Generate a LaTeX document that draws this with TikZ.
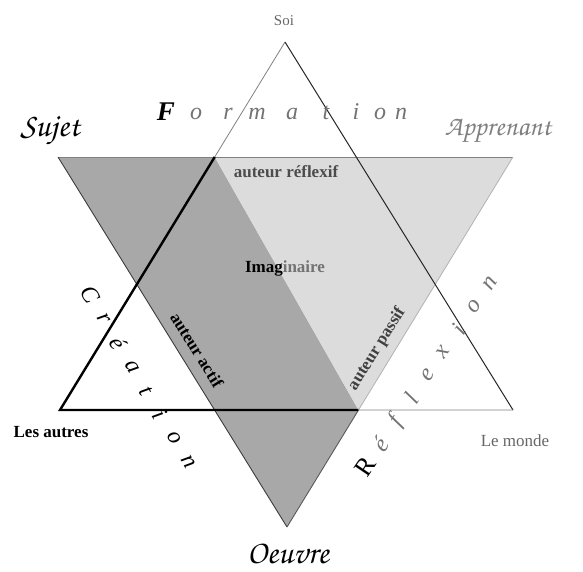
\documentclass[tikz,border=0pt]{standalone}
\usepackage[T1]{fontenc}
\usepackage{fontspec}
\setmainfont{Liberation Serif}
\usepackage{tikz}
\newcommand{\calli}{\fontencoding{T1}\fontfamily{pzc}\fontseries{mb}\fontshape{it}\selectfont}
\definecolor{hxDark}{HTML}{A8A8A8}
\definecolor{hxLight}{HTML}{DCDCDC}
\definecolor{hxInk}{HTML}{1A1A1A}
\definecolor{hxGrey}{HTML}{808080}

\begin{document}
\begin{tikzpicture}[x=1pt,y=-1pt,
    lbl/.style={inner sep=1pt,font=\fontsize{17}{19}\selectfont\bfseries},
    calig/.style={inner sep=0pt,font=\calli\fontsize{30}{32}\selectfont},
    lettre/.style={inner sep=0pt,font=\fontsize{24}{26}\selectfont\itshape}]
		\useasboundingbox (0,0) rectangle (583,571);
		% sommets des deux triangles
		\coordinate (soi) at (285,42);
		\coordinate (autres) at (60,410);
		\coordinate (monde) at (513,410);
		\coordinate (sujet) at (58,157);
		\coordinate (appr) at (513,157);
		\coordinate (oeuvre) at (287,527);
		\coordinate (ia) at (intersection of soi--autres and sujet--appr);
		\coordinate (ib) at (intersection of oeuvre--appr and autres--monde);
		% zones grises
		\fill[hxDark]  (sujet) -- (ia) -- (ib) -- (oeuvre) -- cycle;
		\fill[hxLight] (ia) -- (appr) -- (ib) -- cycle;
		% aretes
		\draw[hxGrey,line width=0.8pt] (sujet) -- (appr);
		\draw[hxInk!85,line width=0.9pt] (sujet) -- (oeuvre);
		\draw[black!30,line width=0.8pt] (appr) -- (ib);
		\draw[black!65,line width=0.9pt] (ib) -- (oeuvre);
		\draw[black!50,line width=0.8pt] (soi) -- (ia);
		\draw[black!85,line width=1pt] (soi) -- (monde);
		\draw[black!50,line width=0.8pt] (ib) -- (monde);
		\draw[black,line width=2.4pt,line join=miter] (ia) -- (autres) -- (ib);
		% sommets
		\node[lbl,text=black!60,font=\fontsize{15}{17}\selectfont] (soiL) at (284,21) {Soi};
		\node[calig,font=\calli\fontsize{33}{35}\selectfont] (sujetL) at (50,131) {Sujet};
		\node[calig,text=black!50,font=\calli\fontsize{28}{30}\selectfont] (apprL) at (498,131) {Apprenant};
		\node[calig,font=\calli\fontsize{33}{35}\selectfont] (oeuvreL) at (288,554) {Oeuvre};
		\node[lbl] (autresL) at (51,432) {Les autres};
		\node[lbl,text=black!60,font=\fontsize{17}{19}\selectfont] (mondeL) at (515,441) {Le monde};
		% auteurs
		\node[lbl,text=black!70] (reflexif) at (286,172) {auteur réflexif};
		\node[lbl] (imag) at (285,268) {Imag\textcolor{black!55}{inaire}};
		\node[lbl,rotate=-58] (actif) at (197,350) {auteur actif};
		\node[lbl,text=black!75,rotate=58] (passif) at (377,349) {auteur passif};
		% Formation
		\node[lettre,anchor=base,font=\fontsize{27}{29}\selectfont\bfseries\itshape] (form0) at (166,120) {F};
		\foreach \l/\x [count=\i] in {o/196,r/228,m/257,a/292,t/326,i/356,o/380,n/401}
			\node[lettre,anchor=base,text=black!55] (form\i) at (\x,119) {\l};
		% Création
		\foreach \l [count=\i from 0] in {C,r,é,a,t,i,o,n}
			\node[lettre,rotate=-60] (crea\i) at (90+14*\i,295+23.9*\i) {\l};
		% Réflexion
		\node[lettre,rotate=56,font=\fontsize{26}{28}\selectfont] (refl0) at (365,467) {R};
		\foreach \l [count=\i] in {é,f,l,e,x,i,o,n}
			\node[lettre,rotate=56,text=black!55] (refl\i) at (365+15.6*\i,467-23*\i) {\l};
	\end{tikzpicture}
\end{document}
